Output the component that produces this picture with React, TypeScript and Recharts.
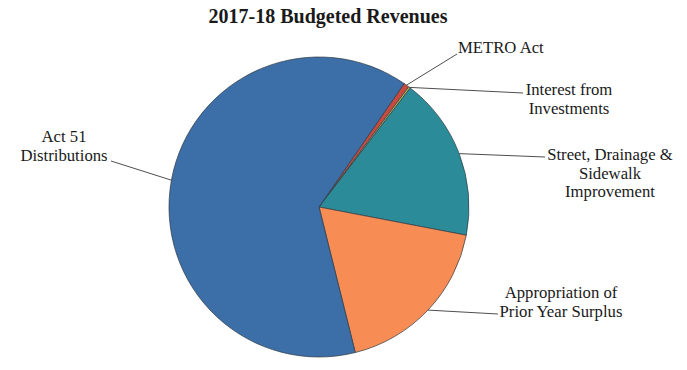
import { PieChart, Pie, Cell } from "recharts";

// slices in clockwise order, starting at the METRO Act wedge
const categories = [
  "METRO Act",
  "Interest from Investments",
  "Street, Drainage & Sidewalk Improvement",
  "Appropriation of Prior Year Surplus",
  "Act 51 Distributions",
];
const shares = [0.6, 0.2, 17.6, 18.1, 63.5];

const data = categories.map((name, i) => ({ name, value: shares[i] }));

const COLORS = ["#c8493f", "#b9bb4c", "#2b8b99", "#f88c55", "#3c6ea7"];

// where each leader line ends and how its text sits (page px)
const LABELS: Record<string, { end: [number, number]; x: number; anchor: "start" | "middle"; lines: string[]; y0: number }> = {
  "METRO Act": { end: [457, 54], x: 458, anchor: "start", lines: ["METRO Act"], y0: 53 },
  "Interest from Investments": { end: [523, 93], x: 569, anchor: "middle", lines: ["Interest from", "Investments"], y0: 95 },
  "Street, Drainage & Sidewalk Improvement": {
    end: [545, 157],
    x: 610,
    anchor: "middle",
    lines: ["Street, Drainage &", "Sidewalk", "Improvement"],
    y0: 160,
  },
  "Appropriation of Prior Year Surplus": {
    end: [498, 314],
    x: 561,
    anchor: "middle",
    lines: ["Appropriation of", "Prior Year Surplus"],
    y0: 298,
  },
  "Act 51 Distributions": { end: [111, 161], x: 64, anchor: "middle", lines: ["Act 51", "Distributions"], y0: 142 },
};

const RAD = Math.PI / 180;

function renderLabel(props: any) {
  const { cx, cy, midAngle, outerRadius, name } = props;
  const cfg = LABELS[name];
  if (!cfg) return null;
  const sx = cx + outerRadius * Math.cos(-midAngle * RAD);
  const sy = cy + outerRadius * Math.sin(-midAngle * RAD);
  return (
    <g>
      <line x1={sx} y1={sy} x2={cfg.end[0]} y2={cfg.end[1]} stroke="#3a3a3a" strokeWidth={0.9} />
      <text
        x={cfg.x}
        y={cfg.y0}
        textAnchor={cfg.anchor}
        style={{ fontFamily: "'Liberation Serif', serif", fontSize: 16.7, fill: "#1a1a1a" }}
      >
        {cfg.lines.map((l, i) => (
          <tspan key={i} x={cfg.x} dy={i === 0 ? 0 : 18.5}>
            {l}
          </tspan>
        ))}
      </text>
    </g>
  );
}

export default function App() {
  return (
    <div style={{ position: "absolute", left: 0, top: 0, width: 687, height: 370, background: "#fff" }}>
      <div
        style={{
          position: "absolute",
          left: 0,
          top: 6,
          width: 656,
          textAlign: "center",
          fontFamily: "'Liberation Serif', serif",
          fontWeight: "bold",
          fontSize: 20,
          lineHeight: "20px",
          color: "#1a1a1a",
        }}
      >
        2017-18 Budgeted Revenues
      </div>
      <PieChart
        width={687}
        height={370}
        margin={{ top: 0, right: 0, bottom: 0, left: 0 }}
        style={{ position: "absolute", left: 0, top: 0 }}
      >
        <Pie
          data={data}
          dataKey="value"
          nameKey="name"
          cx={319}
          cy={207}
          outerRadius={150}
          startAngle={55.4}
          endAngle={-304.6}
          stroke="#2f3b44"
          strokeWidth={0.7}
          label={renderLabel}
          labelLine={false}
          isAnimationActive={false}
        >
          {data.map((d, i) => (
            <Cell key={d.name} fill={COLORS[i]} />
          ))}
        </Pie>
      </PieChart>
    </div>
  );
}
